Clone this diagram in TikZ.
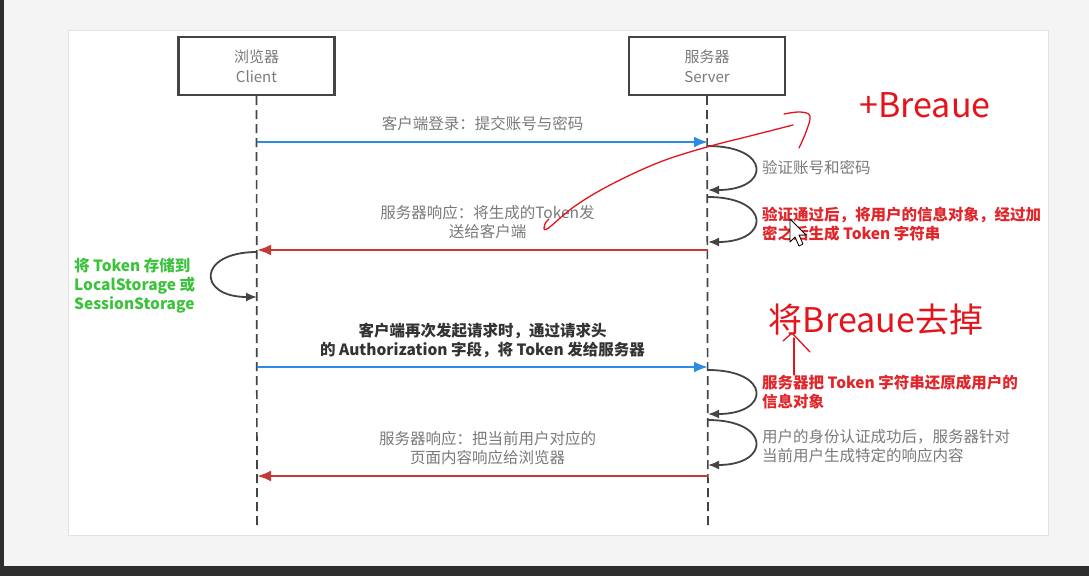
\documentclass[tikz,border=0pt]{standalone}
\usepackage{fontspec}
\setmainfont{Noto Sans CJK SC}
\usepackage{tikz}
\usetikzlibrary{positioning, arrows.meta, calc}
\definecolor{tkbg}{HTML}{F4F4F4}
\definecolor{tkframe}{HTML}{2E2E2E}
\definecolor{tkpanel}{HTML}{E2E2E2}
\definecolor{tkline}{HTML}{444444}
\definecolor{tkgray}{HTML}{7A7A7A}
\definecolor{tkdark}{HTML}{333333}
\definecolor{tkblue}{HTML}{2B8BE6}
\definecolor{tkred}{HTML}{C43A36}
\definecolor{tktxtred}{HTML}{E0262A}
\definecolor{tkgreen}{HTML}{3CC23C}
\definecolor{tkink}{HTML}{E3141B}

\begin{document}
\begin{tikzpicture}[x=1pt, y=-1pt,
  actor/.style={
    rectangle, draw=tkline, line width=2.2pt, fill=white,
    minimum width=156pt, minimum height=58pt,
    align=center, text=tkgray, font=\fontsize{15}{20}\selectfont
  },
  life/.style={draw=tkline, line width=1.7pt, dash pattern=on 9pt off 5pt},
  reqarr/.style={-{Latex[length=14pt,width=11pt]}, draw=tkblue, line width=2.4pt},
  resarr/.style={-{Latex[length=14pt,width=11pt]}, draw=tkred, line width=2.4pt},
  selfloop/.style={-{Latex[length=11pt,width=9pt]}, draw=tkline, line width=1.8pt},
  msg/.style={font=\fontsize{15.5}{19}\selectfont, text=tkgray, align=center, inner sep=2pt},
  msgbold/.style={msg, text=tkdark, font=\fontsize{15.5}{19}\selectfont\bfseries},
  note/.style={msg, align=left, anchor=west},
  notered/.style={note, text=tktxtred, font=\fontsize{15.5}{19}\selectfont\bfseries},
  notegreen/.style={note, text=tkgreen, font=\fontsize{15.5}{19}\selectfont\bfseries},
  ink/.style={draw=tkink, line width=1.3pt, line cap=round, line join=round},
  inktext/.style={text=tkink, font=\fontsize{34}{40}\selectfont, inner sep=0pt},
]
\useasboundingbox (0,0) rectangle (1089,576);

% screen background and panel
\fill[tkbg] (0,0) rectangle (1089,576);
\fill[tkframe] (0,0) rectangle (4,566);
\fill[tkframe] (0,566) rectangle (1089,576);
\filldraw[fill=white, draw=tkpanel, line width=0.8pt] (68,30) rectangle (1048,535);

% actors
\node[actor] (client) at (256.5,66) {浏览器\\Client};
\node[actor] (server) at (707,66) {服务器\\Server};

% lifelines
\coordinate (cend) at (257,525);
\coordinate (send) at (708,525);
\draw[life] (client.south) -- (cend);
\draw[life] (server.south) -- (send);

% points on the lifelines
\coordinate (c1) at (257,142);  \coordinate (s1) at (708,142);
\coordinate (s2) at (708,146);  \coordinate (s3) at (708,190);
\coordinate (s4) at (708,197);  \coordinate (s5) at (708,242);
\coordinate (c6) at (257,250);  \coordinate (s6) at (708,250);
\coordinate (c7) at (257,252);  \coordinate (c8) at (257,297);
\coordinate (c9) at (257,367);  \coordinate (s9) at (708,367);
\coordinate (s10) at (708,370); \coordinate (s11) at (708,414);
\coordinate (s12) at (708,420); \coordinate (s13) at (708,465);
\coordinate (c14) at (257,476); \coordinate (s14) at (708,476);

% login
\draw[reqarr] (c1) -- node[msg, above=8pt] (login) {客户端登录：提交账号与密码} (s1);
\draw[selfloop] (s2) .. controls +(63,0) and +(63,0) .. (s3);
\node[note] (check) at (760,168) {验证账号和密码};
\draw[selfloop] (s4) .. controls +(63,0) and +(63,0) .. (s5);
\node[notered] (sign) at (760,224) {验证通过后，将用户的信息对象，经过加\\密之后生成 Token 字符串};

% token back to client
\draw[resarr] (s6) -- node[msg, above=8pt, xshift=5pt] (reply) {服务器响应：将生成的Token发\\送给客户端} (c6);
\draw[selfloop] (c7) .. controls +(-60,0) and +(-60,0) .. (c8);
\node[notegreen] (store) at (72,286) {将 Token 存储到\\LocalStorage 或\\SessionStorage};

% next request
\draw[reqarr] (c9) -- node[msgbold, above=6pt] (again) {客户端再次发起请求时，通过请求头\\的 Authorization 字段，将 Token 发给服务器} (s9);
\draw[selfloop] (s10) .. controls +(63,0) and +(63,0) .. (s11);
\node[notered] (decode) at (760,392) {服务器把 Token 字符串还原成用户的\\信息对象};
\draw[selfloop] (s12) .. controls +(63,0) and +(63,0) .. (s13);
\node[note] (build) at (760,446) {用户的身份认证成功后，服务器针对\\当前用户生成特定的响应内容};
\draw[resarr] (s14) -- node[msg, above=8pt, xshift=5pt] (page) {服务器响应：把当前用户对应的\\页面内容响应给浏览器} (c14);

% handwritten notes
\node[inktext] (plus) at (925,105) {+Breaue};
\node[inktext] (drop) at (876,320) {将Breaue去掉};
\draw[ink] plot[smooth, tension=0.6] coordinates {(549,219) (545,224) (547,229) (575,206) (612,184) (660,162) (707,147) (750,136) (793,125)};
\draw[ink] plot[smooth, tension=0.6] coordinates {(784,114) (800,112) (810,116) (806,132) (799,148)};
\draw[ink] (794,375) -- (794,338);
\draw[ink] (783,341) -- (792,333) -- (810,352);

% mouse pointer
\filldraw[fill=white, draw=black, line width=0.8pt, line join=round]
  (790,219) -- (790,242) -- (795,237) -- (799,246) -- (803,244) -- (799,235) -- (806,235) -- cycle;
\end{tikzpicture}
\end{document}
